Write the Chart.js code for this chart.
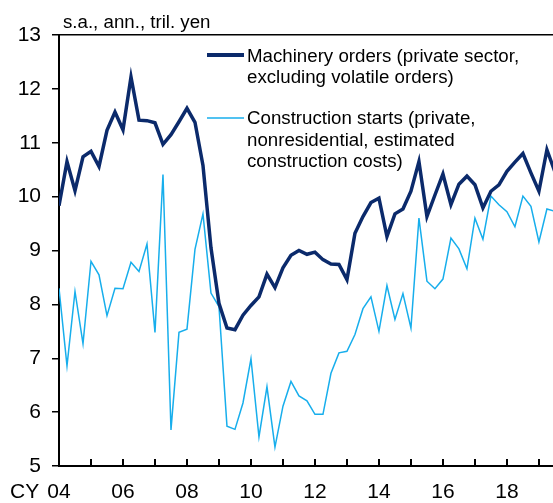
<!DOCTYPE html>
<html>
<head>
<meta charset="utf-8">
<script src="https://cdn.jsdelivr.net/npm/chart.js@4/dist/chart.umd.min.js"></script>
<style>
html, body { margin: 0; padding: 0; background: #fff; }
#wrap { width: 553px; height: 503px; position: relative; }
</style>
</head>
<body>
<div id="wrap"><canvas id="chart"></canvas></div>
<script>
// quarterly data, first point = 2004 Q1
var startYear = 2004;
var machinery = [
  9.83, 10.65, 10.11, 10.74, 10.84, 10.56, 11.23, 11.57, 11.24, 12.22,
  11.42, 11.41, 11.37, 10.97, 11.15, 11.39, 11.64, 11.38, 10.58, 9.05,
  8.02, 7.56, 7.53, 7.80, 7.98, 8.14, 8.56, 8.31, 8.68, 8.91,
  9.00, 8.93, 8.97, 8.83, 8.75, 8.74, 8.46, 9.32, 9.63, 9.89,
  9.97, 9.26, 9.68, 9.77, 10.10, 10.65, 9.63, 10.03, 10.42, 9.85,
  10.23, 10.38, 10.22, 9.79, 10.10, 10.22, 10.47, 10.64, 10.80, 10.44,
  10.10, 10.87, 10.46
];
var construction = [
  8.30, 6.86, 8.24, 7.27, 8.80, 8.55, 7.79, 8.30, 8.29, 8.78,
  8.61, 9.12, 7.48, 10.41, 5.67, 7.48, 7.54, 9.02, 9.68, 8.21,
  7.96, 5.74, 5.68, 6.17, 6.99, 5.54, 6.47, 5.35, 6.11, 6.57,
  6.30, 6.21, 5.96, 5.96, 6.72, 7.10, 7.13, 7.44, 7.92, 8.14,
  7.50, 8.35, 7.72, 8.20, 7.56, 9.60, 8.43, 8.29, 8.47, 9.23,
  9.03, 8.66, 9.60, 9.21, 10.01, 9.85, 9.72, 9.44, 10.01, 9.82,
  9.16, 9.77, 9.73
];
var yTicks = [5, 6, 7, 8, 9, 10, 11, 12, 13];
var xTickYears = [2004, 2005, 2006, 2007, 2008, 2009, 2010, 2011, 2012, 2013, 2014, 2015, 2016, 2017, 2018, 2019];
var xTickLabels = ['04', '', '06', '', '08', '', '10', '', '12', '', '14', '', '16', '', '18', ''];
var unitLabel = 's.a., ann., tril. yen';
var machineryLegend = ['Machinery orders (private sector,', 'excluding volatile orders)'];
var constructionLegend = ['Construction starts (private,', 'nonresidential, estimated', 'construction costs)'];

var darkBlue = '#0b2a6b';
var lightBlue = '#17aeec';
var fontFam = "'Liberation Sans', Arial, sans-serif";

function toPoints(arr) {
  return arr.map(function (v, i) { return { x: startYear + i / 4, y: v }; });
}

var decor = {
  id: 'decor',
  afterDraw: function (chart) {
    var ctx = chart.ctx;
    var xs = chart.scales.x;
    var area = chart.chartArea;
    ctx.save();
    // inward ticks on the x axis
    ctx.strokeStyle = '#000';
    ctx.lineWidth = 2;
    xTickYears.forEach(function (yr) {
      var px = Math.round(xs.getPixelForValue(yr));
      if (px > area.left + 2 && px < area.right) {
        ctx.beginPath();
        ctx.moveTo(px, area.bottom);
        ctx.lineTo(px, area.bottom - 7);
        ctx.stroke();
      }
    });
    ctx.fillStyle = '#000';
    ctx.font = '21px ' + fontFam;
    ctx.textBaseline = 'middle';
    ctx.textAlign = 'left';
    ctx.fillText('CY', 10, 492);

    ctx.font = '18.7px ' + fontFam;
    ctx.textBaseline = 'alphabetic';
    ctx.fillText(unitLabel, 63, 28);

    // legend
    ctx.strokeStyle = darkBlue;
    ctx.lineWidth = 4;
    ctx.beginPath(); ctx.moveTo(207, 55); ctx.lineTo(244, 55); ctx.stroke();
    ctx.strokeStyle = lightBlue;
    ctx.lineWidth = 1.5;
    ctx.beginPath(); ctx.moveTo(207, 118); ctx.lineTo(244, 118); ctx.stroke();
    machineryLegend.forEach(function (t, i) { ctx.fillText(t, 247, 61.5 + i * 21.5); });
    constructionLegend.forEach(function (t, i) { ctx.fillText(t, 247, 124 + i * 21.5); });
    ctx.restore();
  }
};

new Chart(document.getElementById('chart'), {
  type: 'line',
  data: {
    datasets: [
      {
        label: machineryLegend.join(' '),
        data: toPoints(machinery),
        borderColor: darkBlue,
        borderWidth: 3.5,
        pointRadius: 0,
        tension: 0,
        fill: false
      },
      {
        label: constructionLegend.join(' '),
        data: toPoints(construction),
        borderColor: lightBlue,
        borderWidth: 1.5,
        pointRadius: 0,
        tension: 0,
        fill: false
      }
    ]
  },
  options: {
    responsive: true,
    maintainAspectRatio: false,
    animation: false,
    layout: { padding: { top: 35, right: 0, left: 0, bottom: 0 } },
    plugins: {
      legend: { display: false },
      tooltip: { enabled: false }
    },
    scales: {
      x: {
        type: 'linear',
        min: 2004,
        max: 2019.44,
        afterBuildTicks: function (scale) {
          scale.ticks = xTickYears.map(function (v) { return { value: v }; });
        },
        afterFit: function (scale) { scale.height = 37; },
        grid: { display: true, color: 'rgba(0,0,0,0)', drawTicks: false },
        border: { display: true, color: '#000', width: 2 },
        ticks: {
          color: '#000',
          font: { family: fontFam, size: 21 },
          padding: 14,
          maxRotation: 0,
          autoSkip: false,
          callback: function (v) {
            var k = xTickYears.indexOf(v);
            return k >= 0 ? xTickLabels[k] : '';
          }
        }
      },
      y: {
        min: 5,
        max: 13,
        afterBuildTicks: function (scale) {
          scale.ticks = yTicks.map(function (v) { return { value: v }; });
        },
        afterFit: function (scale) { scale.width = 59; },
        grid: {
          color: function (c) { return c.tick && c.tick.value === 13 ? '#000' : 'rgba(0,0,0,0)'; },
          tickColor: '#000',
          tickLength: 7,
          lineWidth: 1.5
        },
        border: { display: true, color: '#000', width: 2 },
        ticks: {
          color: '#000',
          font: { family: fontFam, size: 21 },
          padding: 11
        }
      }
    }
  },
  plugins: [decor]
});
</script>
</body>
</html>
